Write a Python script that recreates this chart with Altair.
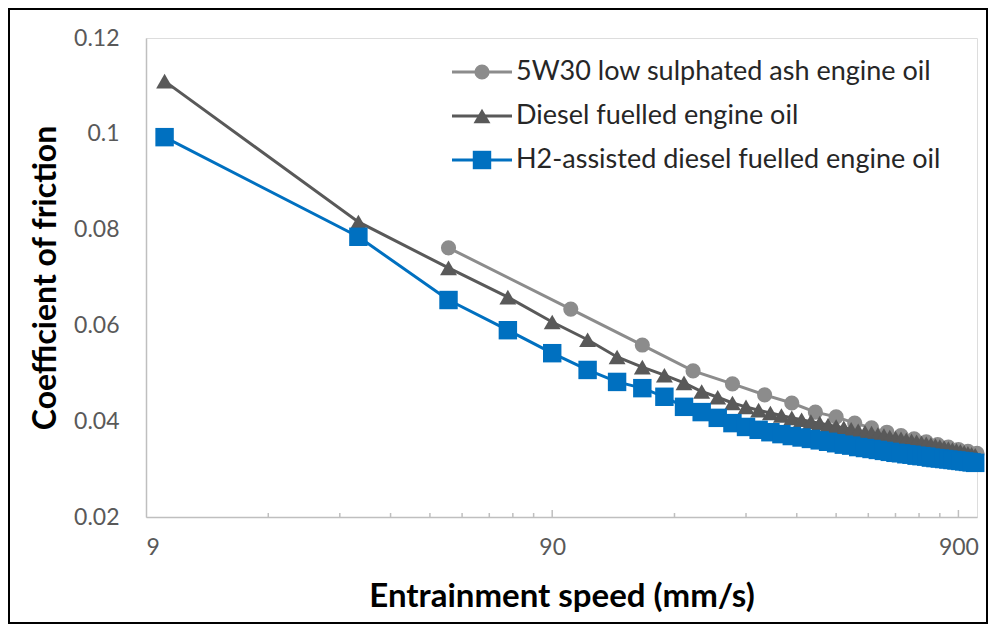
import altair as alt
import pandas as pd

# ---------------- data ----------------
series_names = [
    "5W30 low sulphated ash engine oil",
    "Diesel fuelled engine oil",
    "H2-assisted diesel fuelled engine oil",
]

speed_5w30 = [50, 100, 150, 200, 250, 300, 350, 400, 450, 500,
              550, 600, 650, 700, 750, 800, 850, 900, 950, 1000]
cof_5w30 = [0.0762, 0.0634, 0.0559, 0.0505, 0.0478, 0.0455, 0.0438, 0.0419, 0.0409, 0.0396,
            0.0386, 0.0377, 0.0370, 0.0363, 0.0357, 0.0351, 0.0346, 0.0341, 0.0337, 0.0333]

speed_diesel = [10, 30, 50, 70, 90, 110, 130, 150, 170, 190,
                210, 230, 250, 270, 290, 310, 330, 350, 370, 390,
                410, 430, 450, 470, 490, 510, 530, 550, 570, 590,
                610, 630, 650, 670, 690, 710, 730, 750, 770, 790,
                810, 830, 850, 870, 890, 910, 930, 950, 970, 990]
cof_diesel = [0.1110, 0.0816, 0.0720, 0.0659, 0.0607, 0.0570, 0.0534, 0.0513, 0.0496, 0.0480,
              0.0462, 0.0450, 0.0438, 0.0430, 0.0423, 0.0417, 0.0412, 0.0407, 0.0403, 0.0399,
              0.0396, 0.0392, 0.0389, 0.0386, 0.0383, 0.0380, 0.0377, 0.0375, 0.0372, 0.0370,
              0.0367, 0.0365, 0.0363, 0.0361, 0.0359, 0.0357, 0.0355, 0.0353, 0.0351, 0.0349,
              0.0347, 0.0345, 0.0343, 0.0341, 0.0339, 0.0337, 0.0335, 0.0333, 0.0331, 0.0329]

speed_h2 = speed_diesel
cof_h2 = [0.0993, 0.0785, 0.0653, 0.0590, 0.0542, 0.0507, 0.0482, 0.0469, 0.0451, 0.0430,
          0.0419, 0.0407, 0.0396, 0.0388, 0.0382, 0.0377, 0.0373, 0.0369, 0.0366, 0.0363,
          0.0360, 0.0357, 0.0354, 0.0351, 0.0349, 0.0346, 0.0344, 0.0342, 0.0340, 0.0338,
          0.0336, 0.0334, 0.0333, 0.0331, 0.0330, 0.0328, 0.0327, 0.0326, 0.0324, 0.0323,
          0.0322, 0.0321, 0.0320, 0.0319, 0.0318, 0.0317, 0.0316, 0.0315, 0.0314, 0.0313]

x_major_ticks = [9, 90, 900]
x_minor_ticks = [18, 27, 36, 45, 54, 63, 72, 81,
                 180, 270, 360, 450, 540, 630, 720, 810]
y_ticks = [0.02, 0.04, 0.06, 0.08, 0.10, 0.12]

colors = ["#8c8c8c", "#595959", "#0070c0"]
shapes = ["circle", "triangle-up", "square"]
marker_sizes = [230, 340, 290]

# ---------------- tables ----------------
rows = []
for name, xs, ys in [(series_names[0], speed_5w30, cof_5w30),
                     (series_names[1], speed_diesel, cof_diesel),
                     (series_names[2], speed_h2, cof_h2)]:
    for xv, yv in zip(xs, ys):
        rows.append({"series": name, "speed": xv, "cof": yv})
df = pd.DataFrame(rows)
legend_df = pd.DataFrame({"series": series_names, "row": [0, 1, 2]})
major_df = pd.DataFrame({"t": x_major_ticks[1:]})
minor_df = pd.DataFrame({"t": x_minor_ticks})

FONT = "Lato"
W, H = 831, 479

color_scale = alt.Scale(domain=series_names, range=colors)
shape_scale = alt.Scale(domain=series_names, range=shapes)
size_scale = alt.Scale(domain=series_names, range=marker_sizes)
x_scale = alt.Scale(type="log", domain=[9, 1000], nice=False)
y_scale = alt.Scale(domain=[0.02, 0.12], nice=False, zero=False)

x_enc = alt.X("speed:Q", scale=x_scale,
              axis=alt.Axis(values=x_major_ticks, format="~g", ticks=False, grid=False,
                            labelFontSize=23, labelColor="#595959", labelFont=FONT,
                            labelPadding=19, domainColor="#bfbfbf", domainWidth=1.5,
                            title="Entrainment speed (mm/s)", titleFont=FONT,
                            titleFontSize=33, titleFontWeight="bold", titleColor="black",
                            titleX=W / 2, titleY=79, titleBaseline="middle"))
y_enc = alt.Y("cof:Q", scale=y_scale,
              axis=alt.Axis(values=y_ticks, format="~g", ticks=False, grid=False,
                            labelFontSize=23, labelColor="#595959", labelFont=FONT,
                            labelPadding=27, domainColor="#bfbfbf", domainWidth=1.5,
                            title="Coefficient of friction", titleFont=FONT,
                            titleFontSize=32, titleFontWeight="bold", titleColor="black",
                            titleX=-101, titleY=H / 2, titleAngle=-90,
                            titleBaseline="middle", titleAlign="center"))

base = alt.Chart(df)
lines = base.mark_line(strokeWidth=3).encode(
    x=x_enc, y=y_enc,
    color=alt.Color("series:N", scale=color_scale, legend=None),
    detail="series:N",
)
points = base.mark_point(filled=True, opacity=1).encode(
    x=alt.X("speed:Q", scale=x_scale),
    y=alt.Y("cof:Q", scale=y_scale),
    color=alt.Color("series:N", scale=color_scale, legend=None),
    shape=alt.Shape("series:N", scale=shape_scale, legend=None),
    size=alt.Size("series:N", scale=size_scale, legend=None),
    order=alt.Order("series:N"),
)
major_ticks = alt.Chart(major_df).mark_rule(color="#bfbfbf", strokeWidth=1.5).encode(
    x=alt.X("t:Q", scale=x_scale), y=alt.value(H), y2=alt.value(H - 7))
minor_ticks = alt.Chart(minor_df).mark_rule(color="#bfbfbf", strokeWidth=1.5).encode(
    x=alt.X("t:Q", scale=x_scale), y=alt.value(H), y2=alt.value(H - 4))

main = alt.layer(major_ticks, minor_ticks, lines, points)

leg_y = alt.Y("row:Q", scale=alt.Scale(domain=[0, 2], range=[34, 122]), axis=None)
leg_base = alt.Chart(legend_df)
leg_line = leg_base.mark_rule(strokeWidth=3).encode(
    x=alt.value(306), x2=alt.value(366), y=leg_y,
    color=alt.Color("series:N", scale=color_scale, legend=None))
leg_pt = leg_base.mark_point(filled=True, opacity=1).encode(
    x=alt.value(336), y=leg_y,
    color=alt.Color("series:N", scale=color_scale, legend=None),
    shape=alt.Shape("series:N", scale=shape_scale, legend=None),
    size=alt.Size("series:N", scale=size_scale, legend=None))
leg_txt = leg_base.mark_text(align="left", baseline="middle", fontSize=27,
                             font=FONT, color="#262626").encode(
    x=alt.value(370), y=leg_y, text="series:N")
legend = alt.layer(leg_line, leg_pt, leg_txt)

frame = alt.Chart(legend_df.head(1)).mark_rect(fill=None, stroke="black", strokeWidth=2).encode(
    x=alt.value(-137), x2=alt.value(W + 10), y=alt.value(-29), y2=alt.value(H + 106))

chart = alt.layer(main, legend, frame).resolve_scale(y="independent").properties(
    width=W, height=H,
    padding={"left": 138, "top": 30, "right": 11, "bottom": 107},
    autosize=alt.AutoSizeParams(type="none"),
).configure_view(stroke=None).configure(background="white")

chart.save("out.html", embed_options={"renderer": "svg", "actions": False})
